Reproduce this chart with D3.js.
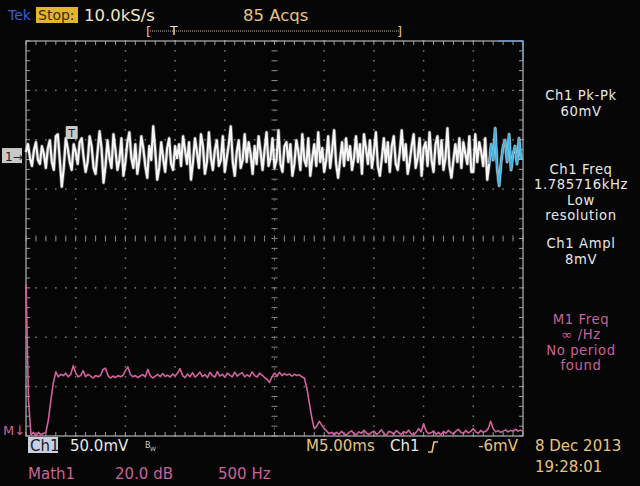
<!DOCTYPE html>
<html><head><meta charset="utf-8">
<script src="https://cdn.jsdelivr.net/npm/d3@7/dist/d3.min.js"></script>
<style>
html,body{margin:0;padding:0;background:#050505;}
svg{display:block;}
text{font-family:"DejaVu Sans",sans-serif;}
</style></head><body>
<svg id="c" width="640" height="486"></svg>
<script>
// ---------- DATA ----------
// Ch1 record: 250 samples, 0.2 ms apart (0 .. 49.8 ms), values in mV
const ch1SampleMs = 0.2;
const ch1Values = [
 4,12,-2,-10,6,14,-4,-8,10,2,-12,8,16,-6,-14,20,22,-4,-31,-12,18,8,-6,-14,12,
 4,-8,14,18,-2,-16,-6,20,10,-12,-18,4,25,8,-27,-10,16,-2,-12,22,6,-14,-4,18,-20,
 -6,14,24,-2,-12,12,-18,-4,20,8,-10,-22,10,-4,30,6,-24,-12,14,-2,-16,8,18,-8,-14,
 10,-2,12,-10,20,6,-8,14,-24,-6,18,4,-12,22,10,-18,-6,24,-2,-14,6,16,-10,-4,20,
 -16,-2,12,30,-6,-20,4,16,-12,-4,22,-6,14,2,-18,10,-8,20,4,-14,6,24,-10,-2,18,
 -12,-4,26,-8,-16,10,14,-6,12,-20,-8,16,4,-14,22,-4,-10,18,-20,-2,12,-10,24,-6,8,
 -16,-4,20,-12,6,26,-8,-22,-4,14,-10,18,-4,10,-14,-2,20,-6,12,-18,22,8,-8,16,-12,
 4,24,-10,-20,-2,18,-6,14,-16,10,20,-8,-14,4,26,-4,12,-18,-6,10,22,-12,-2,18,-20,
 8,14,-10,24,-4,-16,12,20,-8,16,-14,-2,28,-10,-22,-4,12,-6,18,-12,14,2,-8,20,-16,
 -16,22,-6,14,4,-10,18,-24,-8,12,-4,28,-12,-30,-6,10,16,-6,22,-14,2,10,-8,18,-4
];
const ch1CyanFromMs = 46.6;

// Math1 FFT: 201 bins, 25 Hz apart (0 .. 5000 Hz), values in dB above the M marker
const fftBinHz = 25;
const fftValues = [
 59,12,-2,-1,-2.5,-1,-2,-1.5,-1,4,
 12,19,23.5,21.5,22.5,22,23,21.5,22.5,26,
 23,21.5,22,24,21.5,22.5,21.8,21,22,21.5,
 22,24.5,25,22,21,21.8,21.2,22,21.5,22,
 24,25.5,22.5,21.5,22,21.2,21.8,22.4,21.5,24.5,
 22,21,21.8,22.5,21.5,22.8,21.6,22.2,21.4,22.6,
 21.8,23,24.8,22,21.2,22.6,21.5,23.2,21.4,22.2,
 23.4,21.6,22.4,21.2,23.3,22,21.4,23.6,21.8,22.5,
 21.3,23,22.2,21.5,23.4,21.8,22.6,23.2,21.5,22.3,
 21.6,23.5,22,21.4,23,22.2,21.2,20.5,19.2,21.5,
 23,21.8,23.3,22,22.8,22.2,22.6,21.8,22.5,22,
 22.3,21.5,21,17,11,5,0.5,1.5,3.5,2,
 0.5,-0.5,-1.5,-1,
 -2,-1,-1.8,-0.6,-1.5,-2.2,-1,-0.4,-1.6,-2,
 -0.8,-1.4,-0.2,-1.2,-2,-1,-0.5,-1.8,-1.2,0,
 -1.4,-2.2,-0.6,-1,-1.8,-0.3,-1.1,-1.9,-0.7,-1.3,
 -0.1,-1.6,-2,-1,0.5,-0.8,2.5,-0.5,-1.5,-1.2,
 -0.4,-1.8,-1,-2,-0.6,-1.4,-0.2,-1.1,-1.7,-0.5,
 0.2,-1,-1.5,-0.3,-1.2,-0.6,0.5,-0.8,-1.4,-0.2,
 -1,-0.6,0.5,3.5,0.5,-0.8,-0.3,-1,-0.5,0,
 -0.8,-0.2,-0.6,0.3,-0.5,-0.1,-0.7
];

// settings / readouts
const ch1VoltsPerDiv = 50;      // mV/div
const timePerDiv = 5;           // ms/div
const mathDbPerDiv = 20;
const mathHzPerDiv = 500;
const hDivs = 10, vDivs = 8;
const ch1OffsetDiv = 1.67;      // Ch1 ground marker position (div above centre)
const mathRefDiv = -3.876;      // M marker position (div)

const topTexts = ["Tek","Stop:","10.0kS/s","85 Acqs"];
const measCh1 = [["Ch1 Pk-Pk","60mV"],["Ch1 Freq","1.785716kHz","Low","resolution"],["Ch1 Ampl","8mV"]];
const measMath = ["M1 Freq","\u221e /Hz","No period","found"];
const bottomTexts = {ch:"Ch1", volts:"50.0mV", tb:"M5.00ms", trigCh:"Ch1", trigLvl:"-6mV", date:"8 Dec 2013", time:"19:28:01"};
const mathTexts = ["Math1","20.0 dB","500 Hz"];

// ---------- DRAW ----------
const svg = d3.select("#c");
const L = 26, R = 523, T = 41, B = 436;
const xDiv = d3.scaleLinear().domain([0, hDivs]).range([L, R]);
const yDiv = d3.scaleLinear().domain([-vDivs/2, vDivs/2]).range([B, T]);
const xT = d3.scaleLinear().domain([0, hDivs*timePerDiv]).range([L, R]);
const yCh1 = d3.scaleLinear()
  .domain([(-vDivs/2 - ch1OffsetDiv)*ch1VoltsPerDiv, (vDivs/2 - ch1OffsetDiv)*ch1VoltsPerDiv]).range([B, T]);
const xF = d3.scaleLinear().domain([0, hDivs*mathHzPerDiv]).range([L, R]);
const yM = d3.scaleLinear()
  .domain([(-vDivs/2 - mathRefDiv)*mathDbPerDiv, (vDivs/2 - mathRefDiv)*mathDbPerDiv]).range([B, T]);

svg.append("rect").attr("width",640).attr("height",486).attr("fill","#050505");

// graticule
const g = svg.append("g");
const dotCol = "#7d7d7d";
const minor = d3.range(0, hDivs*5+1).map(i=>i/5);
const minorV = d3.range(0, vDivs*5+1).map(i=>i/5 - vDivs/2);
for (let i=1;i<hDivs;i++){
  if (i===hDivs/2) continue;
  minorV.forEach(v=>g.append("rect").attr("x",xDiv(i)-0.75).attr("y",yDiv(v)-0.75).attr("width",1.5).attr("height",1.5).attr("fill",dotCol));
}
for (let j=1;j<vDivs;j++){
  const v=j-vDivs/2; if (v===0) continue;
  minor.forEach(h=>g.append("rect").attr("x",xDiv(h)-0.75).attr("y",yDiv(v)-0.75).attr("width",1.5).attr("height",1.5).attr("fill",dotCol));
}
// centre lines with ticks
const cx = xDiv(hDivs/2), cy = yDiv(0);
minorV.forEach(v=>g.append("line").attr("x1",cx-3).attr("x2",cx+3).attr("y1",yDiv(v)).attr("y2",yDiv(v)).attr("stroke","#8a8a8a").attr("stroke-width",1));
minor.forEach(h=>g.append("line").attr("x1",xDiv(h)).attr("x2",xDiv(h)).attr("y1",cy-3).attr("y2",cy+3).attr("stroke","#8a8a8a").attr("stroke-width",1));
g.append("line").attr("x1",cx).attr("x2",cx).attr("y1",T).attr("y2",B).attr("stroke","#6a6a6a").attr("stroke-width",1).attr("stroke-dasharray","1.5,8.44").attr("stroke-dashoffset",0.75);
g.append("line").attr("x1",L).attr("x2",R).attr("y1",cy).attr("y2",cy).attr("stroke","#6a6a6a").attr("stroke-width",1).attr("stroke-dasharray","1.5,8.44").attr("stroke-dashoffset",0.75);
// frame ticks
minor.forEach(h=>{
  g.append("line").attr("x1",xDiv(h)).attr("x2",xDiv(h)).attr("y1",T).attr("y2",T+4).attr("stroke","#9a9a9a");
  g.append("line").attr("x1",xDiv(h)).attr("x2",xDiv(h)).attr("y1",B).attr("y2",B-4).attr("stroke","#9a9a9a");
});
minorV.forEach(v=>{
  g.append("line").attr("x1",L).attr("x2",L+4).attr("y1",yDiv(v)).attr("y2",yDiv(v)).attr("stroke","#9a9a9a");
  g.append("line").attr("x1",R).attr("x2",R-4).attr("y1",yDiv(v)).attr("y2",yDiv(v)).attr("stroke","#9a9a9a");
});
g.append("rect").attr("x",L).attr("y",T).attr("width",R-L).attr("height",B-T).attr("fill","none").attr("stroke","#b4b4b4").attr("stroke-width",1.2);
g.append("line").attr("x1",R-25).attr("x2",R).attr("y1",T).attr("y2",T).attr("stroke","#6aa0d8").attr("stroke-width",1.2);
g.append("line").attr("x1",R).attr("x2",R).attr("y1",T).attr("y2",T+20).attr("stroke","#6aa0d8").attr("stroke-width",1.2);

// Math1 trace
const fftPts = fftValues.map((v,i)=>[i*fftBinHz, v]);
svg.append("path").datum(fftPts)
  .attr("d", d3.line().x(d=>xF(d[0])).y(d=>yM(d[1])))
  .attr("fill","none").attr("stroke","#d2619c").attr("stroke-width",1.6).attr("stroke-linejoin","round");

// Ch1 trace
const ch1Pts = ch1Values.map((v,i)=>[i*ch1SampleMs, v]);
const ch1Line = d3.line().x(d=>xT(d[0])).y(d=>yCh1(d[1]));
svg.append("path").datum(ch1Pts).attr("d", ch1Line)
  .attr("fill","none").attr("stroke","#ffffff").attr("stroke-opacity",0.35).attr("stroke-width",3.6).attr("stroke-linejoin","round");
svg.append("path").datum(ch1Pts).attr("d", ch1Line)
  .attr("fill","none").attr("stroke","#f6f6f6").attr("stroke-width",2.1).attr("stroke-linejoin","round");
svg.append("path").datum(ch1Pts.filter(d=>d[0]>=ch1CyanFromMs)).attr("d", ch1Line)
  .attr("fill","none").attr("stroke","#3fb4e6").attr("stroke-width",1.8).attr("stroke-linejoin","round");

// trigger marker on trace
const trgX = xT(4.6);
svg.append("rect").attr("x",trgX-6).attr("y",126).attr("width",12).attr("height",13).attr("fill","#c8c8c8").attr("rx",1);
svg.append("text").attr("x",trgX).attr("y",137).attr("text-anchor","middle").attr("font-size",11).attr("fill","#222").text("T");

// Ch1 ground marker
const gy = yCh1(0);
svg.append("rect").attr("x",2).attr("y",gy-8).attr("width",20).attr("height",15).attr("fill","#c8c8c8");
svg.append("text").attr("x",5).attr("y",gy+4.5).attr("font-size",12).attr("fill","#222").text("1\u2192");
// Math marker
const my = yM(0);
svg.append("text").attr("x",3).attr("y",my+5).attr("font-size",13).attr("fill","#c9639a").text("M\u2193");

// text helper
function txt(x,y,s,col,opt={}){
  const t = svg.append("text").attr("x",x).attr("y",y).attr("font-size",opt.size||15).attr("fill",col)
    .attr("text-anchor",opt.anchor||"start").text(s);
  if (opt.ls) t.attr("letter-spacing",opt.ls);
  return t;
}
// top bar
txt(8,20,topTexts[0],"#3c5fd0",{size:14});
svg.append("rect").attr("x",36).attr("y",7).attr("width",42).attr("height",16).attr("fill","#e5b52e");
txt(38,20,topTexts[1],"#3a2a00",{size:14});
txt(84,21,topTexts[2],"#f0e6c6",{size:16.5});
txt(243,21,topTexts[3],"#e7c47e",{size:16.5});
// record bracket
svg.append("line").attr("x1",150).attr("x2",399).attr("y1",31).attr("y2",31).attr("stroke","#bfb79a").attr("stroke-width",1).attr("stroke-dasharray","1,1");
txt(146,36,"[","#e7c47e",{size:13});
txt(397,36,"]","#e7c47e",{size:13});
txt(174,35,"T","#e8e8e8",{size:12,anchor:"middle"});

// right side measurements
const rx = 581;
const mOpt = {anchor:"middle", size:13.2, ls:0.6};
let ys = [[100,115.5],[173.5,189,204.5,220],[248,263.5]];
measCh1.forEach((grp,gi)=>grp.forEach((s,k)=>txt(rx,ys[gi][k],s,"#e8e8e8",mOpt)));
[323.5,339,354.5,370].forEach((y,k)=>txt(rx,y,measMath[k],"#c9639a",mOpt));

// bottom readouts
svg.append("rect").attr("x",28).attr("y",437).attr("width",30).attr("height",16).attr("fill","#c9d0de");
txt(30,451,bottomTexts.ch,"#1a2030");
txt(70,451,bottomTexts.volts,"#e8e8e8");
txt(145,448,"B","#cccccc",{size:8}); txt(150,451,"W","#cccccc",{size:6});
txt(306,451,bottomTexts.tb,"#e7c47e");
txt(390,451,bottomTexts.trigCh,"#e8e8e8");
svg.append("path").attr("d","M428,452 L432,452 L434,442 L438,442").attr("fill","none").attr("stroke","#e7c47e").attr("stroke-width",1.6);
txt(518,451,bottomTexts.trigLvl,"#e7c47e",{anchor:"end"});
txt(535,451,bottomTexts.date,"#e7c47e");
txt(535,472,bottomTexts.time,"#e7c47e");
txt(28,479,mathTexts[0],"#c9639a");
txt(115,479,mathTexts[1],"#c9639a");
txt(218,479,mathTexts[2],"#c9639a");
</script></body></html>
